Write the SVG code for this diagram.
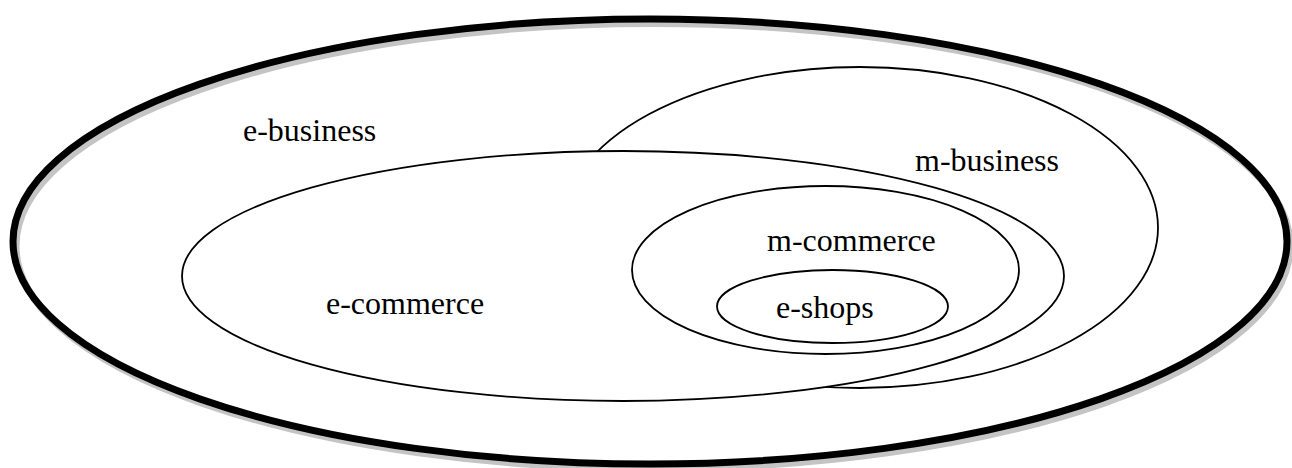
<svg xmlns="http://www.w3.org/2000/svg" width="1292" height="468" viewBox="0 0 1292 468">
<style>
.set{fill:#fff;stroke:#000;stroke-width:1.8}
.lbl{font-family:'Liberation Serif','DejaVu Serif',serif;font-size:32px;fill:#000}
</style>
<rect width="1292" height="468" fill="#fff"/>
<g id="e-business">
<ellipse cx="653" cy="246" rx="637" ry="222.5" fill="none" stroke="#c4c4c4" stroke-width="7"/>
<ellipse cx="650" cy="241.5" rx="637" ry="222.5" fill="none" stroke="#000" stroke-width="7"/>
<text class="lbl" x="243" y="141">e-business</text>
</g>
<g id="m-business">
<ellipse class="set" cx="860" cy="227.5" rx="298" ry="160.5"/>
<text class="lbl" x="915" y="171">m-business</text>
</g>
<g id="e-commerce">
<ellipse class="set" cx="623" cy="276" rx="441" ry="125"/>
<text class="lbl" x="326" y="314">e-commerce</text>
</g>
<g id="m-commerce">
<ellipse class="set" cx="825.5" cy="270" rx="193.5" ry="84"/>
<text class="lbl" x="767" y="251">m-commerce</text>
</g>
<g id="e-shops">
<ellipse class="set" cx="832.5" cy="306.5" rx="115.5" ry="36.5"/>
<text class="lbl" x="776" y="318">e-shops</text>
</g>
<g id="connectors"/>
</svg>
